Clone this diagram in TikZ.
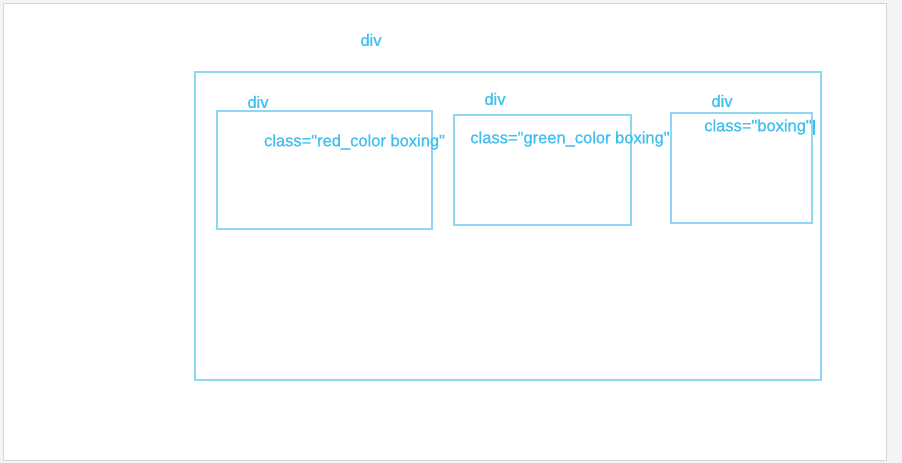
\documentclass[tikz,border=0pt]{standalone}
\usepackage{fontspec}
\setmainfont{Liberation Sans}
\newfontfamily\divfont{Liberation Sans}[FakeBold=0.8]
\usetikzlibrary{positioning}
\definecolor{divline}{HTML}{8DD6F4}
\definecolor{divtext}{HTML}{40BFF0}
\definecolor{pagegray}{HTML}{F3F4F6}
\definecolor{pageedge}{HTML}{D4D6DA}
\newcommand{\dq}{\symbol{34}}

\begin{document}
\begin{tikzpicture}[
  x=1pt,y=-1pt,
  box/.style={draw=divline,line width=1.4pt,minimum width=#1,inner sep=0pt,outer sep=0pt},
  tag/.style={text=divtext,font=\divfont\fontsize{16.5}{18}\selectfont,inner sep=0pt},
  attr/.style={text=divtext,font=\divfont\fontsize{16.5}{18}\selectfont,inner sep=0pt}]

  % page
  \fill[pagegray] (0,0) rectangle (902,463);
  \draw[pageedge,fill=white,line width=1pt] (3.5,3.5) rectangle (886,460);

  % divs
  \node[box=626pt,minimum height=308pt] (outer) at (508,226) {};
  \node[box=215pt,minimum height=118pt] (red) at (324.5,170) {};
  \node[box=177pt,minimum height=110pt] (green) at (542.5,170) {};
  \node[box=141pt,minimum height=110pt] (plain) at (741.5,168) {};

  \node[tag] (outertag) at (371,40) {div};
  \node[tag] (redtag) at (258,102) {div};
  \node[tag] (greentag) at (495,99) {div};
  \node[tag] (plaintag) at (722,101) {div};

  \node[attr] (redattr) at (354.5,142) {class=\dq red\_color boxing\dq};
  \node[attr] (greenattr) at (570,139) {class=\dq green\_color boxing\dq};
  \node[attr] (plainattr) at (758,127) {class=\dq boxing\dq};

  % caret
  \draw[divtext,line width=1.2pt] ([xshift=2pt,yshift=7pt]plainattr.east) -- ([xshift=2pt,yshift=-8pt]plainattr.east);

\end{tikzpicture}
\end{document}
